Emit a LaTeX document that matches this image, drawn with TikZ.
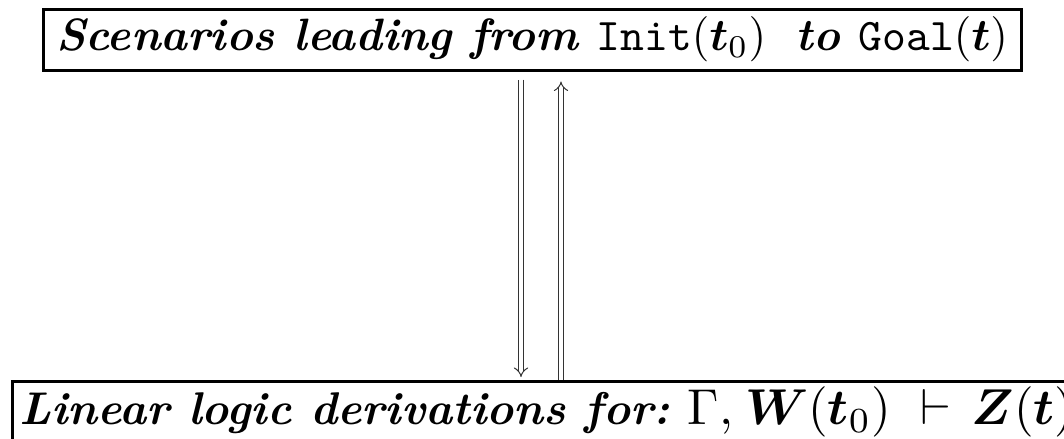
\documentclass[tikz,border=0pt]{standalone}
\usepackage{amsmath,amssymb}
\usepackage{graphicx}
\usepackage{tikz}
\usetikzlibrary{arrows.meta,positioning,calc}
\newsavebox\scenbox
\newsavebox\derivbox
\newlength\pxlen
\newcommand\mathpiece[1]{\scalebox{1.1}{$#1$}}
\tikzset{
  >=Implies,
  frame/.style={draw=black,line width=3\pxlen,inner xsep=0pt,inner ysep=0pt,minimum height=61\pxlen},
  entail/.style={double,double distance=4\pxlen,line width=1\pxlen,draw=black!80,-{Implies[]}}
}

\begin{document}
\sbox\derivbox{\bfseries\itshape Linear logic derivations for:}%
\pgfmathsetmacro\pxu{\wd\derivbox/650}%
\setlength\pxlen{\pxu pt}%
\sbox\scenbox{\bfseries\itshape Scenarios leading from \texttt{\mdseries\upshape Init}$(\boldsymbol{t}_0)$\hspace{30\pxlen}to \texttt{\mdseries\upshape Goal}$(\boldsymbol{t})$}%
\pgfmathsetmacro\scenscale{952*\pxu/\wd\scenbox}%
\begin{tikzpicture}[x=\pxlen,y=-\pxlen]
  \useasboundingbox (0,0) rectangle (1064,438);
  % the two statements
  \node[frame,minimum width=978\pxlen] (scen) at (532,39.5) {\scalebox{\scenscale}{\usebox\scenbox}};
  \node[frame,inner xsep=7\pxlen,anchor=north west] (deriv) at (11,380) {\usebox\derivbox\hspace{18\pxlen}\mathpiece{\Gamma,}\hspace{12\pxlen}\mathpiece{\boldsymbol{W}(\boldsymbol{t}_0)}\hspace{30\pxlen}\mathpiece{\vdash}\hspace{20\pxlen}\mathpiece{\boldsymbol{Z}(\boldsymbol{t})}};

  % both directions
  \draw[entail] ($(scen.south)+(-11,8)$) -- ($(scen.south |- deriv.north)+(-11,-3)$);
  \draw[entail] ($(scen.south |- deriv.north)+(29,0)$) -- ($(scen.south)+(29,10)$);
\end{tikzpicture}
\end{document}
